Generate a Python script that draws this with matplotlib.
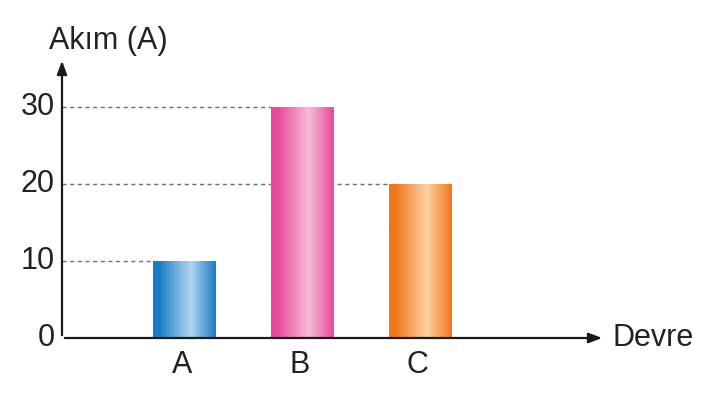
import numpy as np
import matplotlib.pyplot as plt
from matplotlib.colors import LinearSegmentedColormap

plt.rcParams['font.family'] = ['Liberation Sans', 'DejaVu Sans']

categories = ['A', 'B', 'C']
currents = [10, 30, 20]
yticks = [0, 10, 20, 30]
# edge / highlight colours of each cylindrical bar
bar_colors = [('#1b7dc6', '#b3d5f1'), ('#e9489b', '#f6bcd8'), ('#f2771c', '#fdd2a3')]

fig = plt.figure(figsize=(7.15, 4.0), dpi=100)
ax = fig.add_axes([62/715, 62/400, 543/715, 280/400])
ax.set_xlim(0, 4.54)
ax.set_ylim(0, 36.4)
ax.axis('off')

xpos = np.arange(1, len(categories) + 1) * 0.985 + 0.04
width = 0.525

# dashed guide lines
for x, v in zip(xpos, currents):
    ax.plot([0, x - width/2], [v, v], ls=(0, (3, 2.5)), color='#707070', lw=1.0, zorder=1)

# gradient bars
grad = np.linspace(0, 1, 256).reshape(1, -1)
for x, v, (dark, light) in zip(xpos, currents, bar_colors):
    cmap = LinearSegmentedColormap.from_list('g', [(0, dark), (0.1, dark), (0.6, light), (1, dark)])
    ax.imshow(grad, cmap=cmap, aspect='auto', extent=(x - width/2, x + width/2, 0, v),
              zorder=2, interpolation='bicubic')

# axes with arrows
ax.annotate('', xy=(4.54, 0), xytext=(0, 0),
            arrowprops=dict(arrowstyle='-|>,head_length=0.8,head_width=0.3', color='#1a1a1a', lw=1.6),
            zorder=3, annotation_clip=False)
ax.annotate('', xy=(0, 36.4), xytext=(0, 0),
            arrowprops=dict(arrowstyle='-|>,head_length=0.8,head_width=0.3', color='#1a1a1a', lw=1.6),
            zorder=3, annotation_clip=False)

for t in yticks:
    ax.text(-0.06, t, str(t), ha='right', va='center', fontsize=22, color='#222222')
for x, c in zip(xpos, categories):
    ax.text(x - 0.02, -1.5, c, ha='center', va='top', fontsize=22, color='#222222')

ax.text(4.6, 0, 'Devre', ha='left', va='center', fontsize=22, color='#222222')
ax.text(0.39, 38.6, 'Akım (A)', ha='center', va='center', fontsize=22, color='#222222', clip_on=False)

fig.savefig('out.png', dpi=100)
